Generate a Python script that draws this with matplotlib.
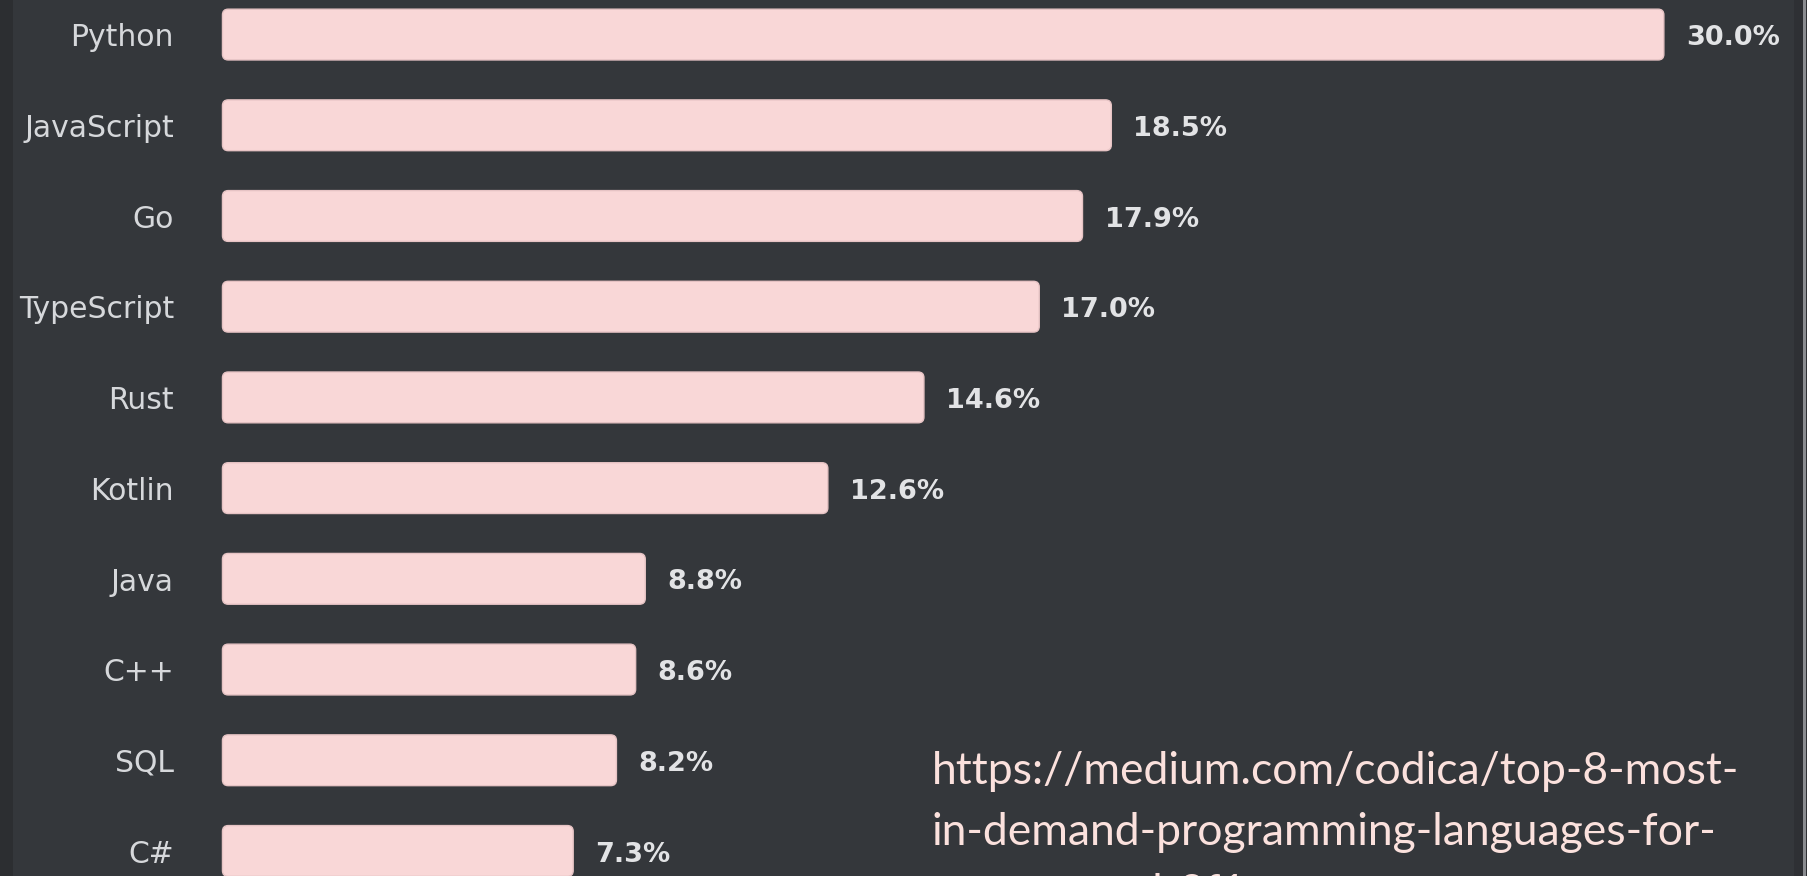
import matplotlib
matplotlib.use("Agg")
import matplotlib.pyplot as plt
from matplotlib.patches import FancyBboxPatch, Rectangle

languages = ["Python", "JavaScript", "Go", "TypeScript", "Rust",
             "Kotlin", "Java", "C++", "SQL", "C#"]
shares = [30.0, 18.5, 17.9, 17.0, 14.6, 12.6, 8.8, 8.6, 8.2, 7.3]
source_lines = ["https://medium.com/codica/top-8-most-",
                "in-demand-programming-languages-for-",
                "anyone-and-8f1e"]

BG = "#34373b"
BAR = "#f9d7d7"

fig = plt.figure(figsize=(18.08, 8.76), dpi=100, facecolor=BG)
ax = fig.add_axes([0, 0, 1, 1], facecolor=BG)

ypos = list(range(len(languages)))
bars = ax.barh(ypos, shares, height=0.56, color=BAR)

# swap plain bars for rounded ones
for b in bars:
    b.set_visible(False)
    r = FancyBboxPatch((b.get_x(), b.get_y()), b.get_width(), b.get_height(),
                       boxstyle="round,pad=0,rounding_size=0.12",
                       mutation_aspect=0.53, facecolor=BAR,
                       edgecolor="#e6c3c4", linewidth=1.0)
    ax.add_patch(r)

for y, name, v in zip(ypos, languages, shares):
    ax.text(-1.01, y + 0.035, name, ha="right", va="center", fontsize=21.5,
            color="#d6d8db", family="DejaVu Sans")
    ax.text(v + 0.46, y + 0.04, f"{v:.1f}%", ha="left", va="center",
            fontsize=19.5, fontweight="bold", color="#e2e3e5",
            family="DejaVu Sans")

ax.set_xlim(-4.63, 33.0)
ax.set_ylim(9.276, -0.381)
ax.axis("off")

# darker edge strips like the screenshot
fig.patches.append(Rectangle((0, 0), 0.007, 1, transform=fig.transFigure,
                             facecolor="#2c2e31", edgecolor="none"))
fig.patches.append(Rectangle((0.9925, 0), 0.0075, 1, transform=fig.transFigure,
                             facecolor="#2e3034", edgecolor="none"))
fig.patches.append(Rectangle((0.9975, 0), 0.0012, 1, transform=fig.transFigure,
                             facecolor="#8a8c90", edgecolor="none"))

# source url, clipped by the bottom edge as in the screenshot
for i, line in enumerate(source_lines):
    fig.text(932 / 1808, 1 - (784 + i * 61) / 876, line, ha="left",
             va="baseline", fontsize=32, color="#fbe1dd", family="Lato")

fig.savefig("out.png", dpi=100, facecolor=BG)
